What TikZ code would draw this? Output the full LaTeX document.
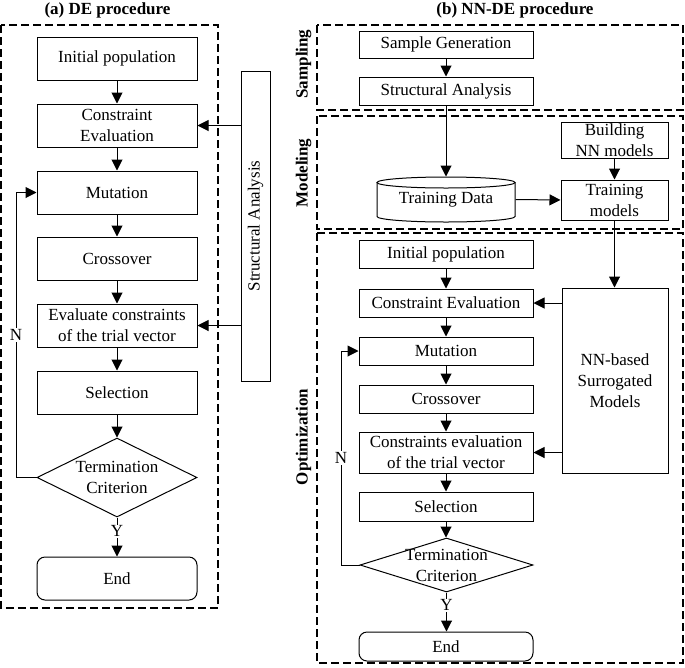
\documentclass[tikz,border=0pt]{standalone}
\usepackage{fontspec}
\setmainfont{Liberation Serif}
\usetikzlibrary{arrows.meta,shapes.geometric}
\begin{document}
\begin{tikzpicture}[x=1pt,y=-1pt,line width=1pt,
  every node/.style={font=\fontsize{17}{21}\selectfont},
  box/.style={draw,rectangle,align=center,inner sep=1pt},
  lbox/.style={box,minimum width=160pt,minimum height=43pt},
  rbox/.style={box,minimum width=174pt,minimum height=28pt},
  dbox/.style={draw,dash pattern=on 8pt off 4pt,line width=1.4pt},
  arr/.style={-{Triangle[length=11pt,width=11pt]}},
  lab/.style={fill=white,inner sep=1pt},
  dia/.style={draw,diamond,inner sep=0pt},
  ttl/.style={font=\fontsize{17}{21}\selectfont\bfseries},
  side/.style={font=\fontsize{17}{21}\selectfont\bfseries,rotate=90}]
\useasboundingbox (0,0) rectangle (685,667);
% titles
\node[ttl] (ta) at (107.5,10) {(a) DE procedure};
\node[ttl] (tb) at (515,10) {(b) NN-DE procedure};
% dashed frames
\draw[dbox] (1,25) rectangle (218,608);
\draw[dbox] (317,25) rectangle (683,110);
\draw[dbox] (317,116) rectangle (683,229);
\draw[dbox] (317,233) rectangle (683,663);
\node[side] (ls) at (303.5,64) {Sampling};
\node[side] (lm) at (303.5,173) {Modeling};
\node[side] (lo) at (303.5,437) {Optimization};
% ---------- (a) ----------
\node[lbox] (a1) at (117,58.5) {Initial population};
\node[lbox] (a2) at (117,125.5) {Constraint\\Evaluation};
\node[lbox] (a3) at (117,192.5) {Mutation};
\node[lbox] (a4) at (117,258.5) {Crossover};
\node[lbox] (a5) at (117,325.5) {Evaluate constraints\\of the trial vector};
\node[lbox] (a6) at (117,392.5) {Selection};
\node[dia,minimum width=160pt,minimum height=79pt] (a7) at (117,477.5) {};
\node[align=center,inner sep=0pt] (a7t) at (117,477.5) {Termination\\Criterion};
\node[lbox,rounded corners=8pt] (a8) at (117,578.5) {End};
\node[box,minimum width=29pt,minimum height=310pt,inner sep=0pt] (asa) at (255.5,226) {\rotatebox{90}{Structural Analysis}};
\coordinate (anx) at (16,0);
\draw[arr] (a1) -- (a2);
\draw[arr] (a2) -- (a3);
\draw[arr] (a3) -- (a4);
\draw[arr] (a4) -- (a5);
\draw[arr] (a5) -- (a6);
\draw[arr] (a6) -- (a7.north);
\draw[arr] (a7.south) -- node[lab,pos=0.35]{Y} (a8);
\draw[arr] (a7.west) -- (anx |- a7.west) -- node[lab]{N} (anx |- a3.west) -- (a3.west);
\draw[arr] (asa.west |- a2.east) -- (a2.east);
\draw[arr] (asa.west |- a5.east) -- (a5.east);
% ---------- (b) ----------
\node[rbox,minimum height=27pt] (s1) at (446,44.5) {Sample Generation};
\node[rbox] (s2) at (446,91) {Structural Analysis};
% cylinder
\node[minimum width=138pt,minimum height=45pt,inner sep=0pt] (td) at (446,199.5) {Training Data};
\draw (446,182.5) ellipse [x radius=69, y radius=5.5];
\draw (377,182.5) -- (377,216.5) arc[start angle=180,end angle=0,x radius=69,y radius=5.5] -- (515,182.5);
\node[box,minimum width=107pt,minimum height=36pt] (bn) at (614.5,140) {Building\\NN models};
\node[box,minimum width=107pt,minimum height=40pt] (tm) at (614.5,200) {Training\\models};
\node[rbox] (b1) at (446,254) {Initial population};
\node[rbox] (b2) at (446,303) {Constraint Evaluation};
\node[rbox] (b3) at (446,351) {Mutation};
\node[rbox] (b4) at (446,399) {Crossover};
\node[rbox,minimum height=41pt] (b5) at (446,452.5) {Constraints evaluation\\of the trial vector};
\node[rbox,minimum height=29pt] (b6) at (446,506.5) {Selection};
\node[dia,minimum width=173pt,minimum height=54pt] (b7) at (446.5,565) {};
\node[align=center,inner sep=0pt] (b7t) at (446.5,565) {Termination\\Criterion};
\node[rbox,minimum height=29pt,rounded corners=8pt] (b8) at (446,646.5) {End};
\node[box,minimum width=106pt,minimum height=185pt] (nn) at (615,380.5) {NN-based\\Surrogated\\Models};
\coordinate (bnx) at (341,0);
\draw[arr] (s1) -- (s2);
\draw[arr] (s2.south) -- (s2.south |- td.north);
\draw[arr] (td.east) -- (tm.west);
\draw[arr] (bn) -- (tm);
\draw[arr] (tm.south) -- (tm.south |- nn.north);
\draw[arr] (b1) -- (b2);
\draw[arr] (b2) -- (b3);
\draw[arr] (b3) -- (b4);
\draw[arr] (b4) -- (b5);
\draw[arr] (b5) -- (b6);
\draw[arr] (b6.south) -- (b6.south |- b7.north);
\draw[arr] (b7.south) -- node[lab,pos=0.33]{Y} (b7.south |- b8.north);
\draw[arr] (b7.west) -- (bnx |- b7.west) -- node[lab]{N} (bnx |- b3.west) -- (b3.west);
\draw[arr] (nn.west |- b2.east) -- (b2.east);
\draw[arr] (nn.west |- b5.east) -- (b5.east);
\end{tikzpicture}
\end{document}
